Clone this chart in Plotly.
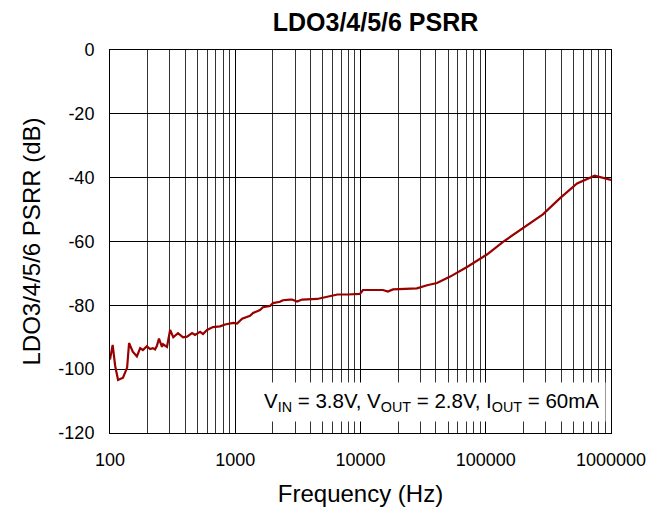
import plotly.graph_objects as go

freq_hz = [100, 105, 110, 116, 127, 137, 142, 152, 164, 174, 183, 197, 209, 220, 229, 237, 246, 260,
           265, 285, 302, 320, 349, 383, 412, 452, 477, 524, 553, 595, 664, 756, 830, 961, 1034,
           1135, 1313, 1388, 1575, 1664, 1894, 2001, 2273, 2400, 2738, 2840, 3115, 3418, 4503,
           5428, 6544, 7887, 9900, 10460, 15100, 16560, 18160, 28200, 34000, 40800, 49100, 52000,
           71400, 102800, 137500, 199000, 286000, 390000, 536000, 740000, 1000000]
psrr_db = [-97, -92.4, -99, -103.4, -102.7, -99.5, -91.8, -94.5, -96, -93.4, -94, -92.8, -93.7, -93.4,
           -93.8, -92.7, -90.4, -93, -92.2, -93, -87.7, -90, -88.7, -90, -89.8, -88.7, -89.3, -88.3,
           -89, -87.7, -86.8, -86.6, -86, -85.5, -85.7, -84.2, -83.3, -82.4, -81.5, -80.6, -80.2,
           -79.3, -78.9, -78.4, -78.2, -78.2, -78.8, -78.2, -78, -77.3, -76.6, -76.6, -76.4, -75.2,
           -75.2, -75.7, -75, -74.7, -73.7, -73, -71.5, -71, -67.9, -64, -60.1, -55.9, -51.5, -46.5,
           -41.8, -39.4, -40.7]

x_tickvals = [100, 1000, 10000, 100000, 1000000]
x_ticktext = ["100", "1000", "10000", "100000", "1000000"]
y_tickvals = [0, -20, -40, -60, -80, -100, -120]
y_ticktext = ["0", "-20", "-40", "-60", "-80", "-100", "-120"]

fig = go.Figure()
fig.add_trace(go.Scatter(x=freq_hz, y=psrr_db, mode="lines",
                         line=dict(color="#990000", width=2.2), showlegend=False))

font_family = "Liberation Sans, Arial, sans-serif"
fig.update_layout(
    width=659, height=508,
    margin=dict(l=102, r=56, t=42, b=83, autoexpand=False),
    paper_bgcolor="white", plot_bgcolor="white",
    font=dict(family=font_family, color="black", size=18),
    title=dict(text="<b>LDO3/4/5/6 PSRR</b>", x=0.530, xanchor="center", xref="paper",
               y=0.972, yanchor="middle", font=dict(size=25, family=font_family)),
    xaxis=dict(type="log", range=[2, 6], tickvals=x_tickvals, ticktext=x_ticktext,
               showgrid=True, gridcolor="black", gridwidth=1,
               minor=dict(dtick="D1", showgrid=True, gridcolor="#333333", gridwidth=1, ticks=""),
               showline=True, linecolor="black", linewidth=1, mirror=True,
               ticks="", zeroline=False, automargin=False, ticklabelstandoff=10,
               title=dict(text="Frequency (Hz)", font=dict(size=24), standoff=16),
               tickfont=dict(size=18)),
    yaxis=dict(range=[-120, 0], tickvals=y_tickvals, ticktext=y_ticktext, showgrid=True,
               gridcolor="black", gridwidth=1, showline=True, linecolor="black", linewidth=1,
               mirror=True, ticks="", zeroline=False, automargin=False, ticklabelstandoff=11,
               title=dict(text="LDO3/4/5/6 PSRR (dB)", font=dict(size=24), standoff=10),
               tickfont=dict(size=18)),
    annotations=[dict(text="V<sub>IN</sub> = 3.8V, V<sub>OUT</sub> = 2.8V, I<sub>OUT</sub> = 60mA",
                      x=0.99, xref="paper", xanchor="right", y=-110.3, yref="y", yanchor="middle",
                      showarrow=False, bgcolor="white", font=dict(size=20.5), borderpad=6)],
)

fig.write_html("out.html")
